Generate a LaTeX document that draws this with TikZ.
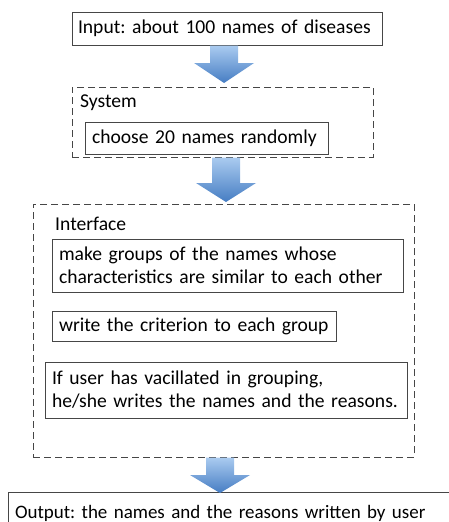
\documentclass[tikz,border=0pt]{standalone}
\usepackage{fontspec}
\setmainfont{Carlito}
\usetikzlibrary{calc}
\definecolor{arrtop}{RGB}{170,203,240}
\definecolor{arrbot}{RGB}{70,125,195}
\definecolor{boxline}{RGB}{70,70,70}
\tikzset{
  box/.style={draw=boxline, line width=0.9pt, inner sep=0pt, outer sep=0pt, font=\fontsize{19.6}{23}\selectfont\frenchspacing, align=left},
  group/.style={draw=boxline, line width=1pt, dash pattern=on 7pt off 4pt, inner sep=0pt, outer sep=0pt},
  grouplabel/.style={anchor=west, inner sep=0pt, font=\fontsize{19.6}{23}\selectfont},
  arrowfill/.style={top color=arrtop, bottom color=arrbot, draw=none}
}
\newcommand{\flowarrow}[4]{% center x, shaft top, head start, tip
  \path[arrowfill] (#1-14,#2) -- (#1+14,#2) -- (#1+14,#3) -- (#1+30,#3) -- (#1,#4) -- (#1-30,#3) -- (#1-14,#3) -- cycle;}
\begin{document}
\begin{tikzpicture}[x=1pt,y=-1pt]
\useasboundingbox (0,0) rectangle (449,522);
% input
\node[box, minimum width=310pt, minimum height=33pt, text width=298pt] (in) at (227,28.5) {Input: about 100 names of diseases};
% system
\node[group, minimum width=301pt, minimum height=70pt] (sys) at (222.5,122) {};
\node[grouplabel] (syslab) at (80,103) {System};
\node[box, minimum width=243pt, minimum height=32pt, text width=229pt] (choose) at (206.5,138) {choose 20 names randomly};
% interface
\node[group, minimum width=381pt, minimum height=253pt] (intf) at (223.5,330.5) {};
\node[grouplabel] (intlab) at (55,224) {Interface};
\node[box, minimum width=351pt, minimum height=53pt, text width=337pt] (make) at (227.5,265.5) {make groups of the names whose\\characteristics are similar to each other};
\node[box, minimum width=284pt, minimum height=30pt, text width=270pt] (write) at (194,326) {write the criterion to each group};
\node[box, minimum width=362pt, minimum height=56pt, text width=348pt] (ifuser) at (226,390) {If user has vacillated in grouping,\\he/she writes the names and the reasons.};
% output
\node[box, minimum width=447pt, minimum height=42pt, text width=433pt, font=\fontsize{19}{23}\selectfont\frenchspacing] (out) at (231.5,513) {Output: the names and the reasons written by user};
% arrows
\flowarrow{224}{45.5}{63}{83}
\flowarrow{226}{157.5}{183}{202}
\flowarrow{220}{457.5}{475}{493}
\end{tikzpicture}
\end{document}
